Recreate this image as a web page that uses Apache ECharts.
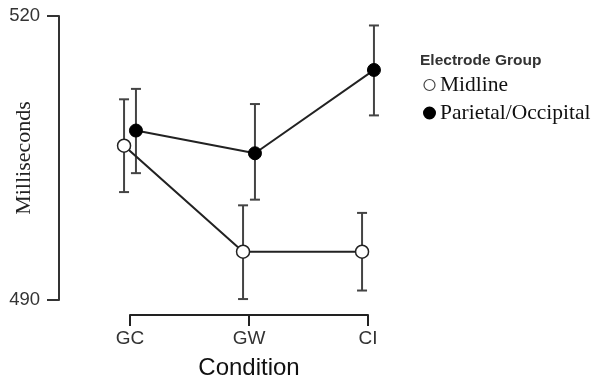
<!DOCTYPE html>
<html>
<head>
    <meta charset="utf-8">
    <title>ECharts</title>
    <script src="https://cdn.jsdelivr.net/npm/echarts@6/dist/echarts.min.js"></script>
</head>
<body style="margin:0">
    <div id="main" style="width: 604px;height:384px;"></div>
    <script type="text/javascript">
    // conditions on the x axis
    var conditions = ['GC', 'GW', 'CI'];

    // Midline
    var midMean = [506.3, 495.1, 495.1];
    var midLow  = [501.4, 490.1, 491.0];
    var midHigh = [511.2, 500.0, 499.2];

    // Parietal/Occipital
    var parMean = [507.9, 505.5, 514.3];
    var parLow  = [503.4, 500.6, 509.5];
    var parHigh = [512.3, 510.7, 519.0];

    var dodge = 0.05;
    var ink = '#222';

    function points(mean, shift) {
        return mean.map(function (v, i) { return [i + shift, v]; });
    }
    function bars(low, high, shift) {
        return low.map(function (v, i) { return [i + shift, v, high[i]]; });
    }

    function errorBar(params, api) {
        var lo = api.coord([api.value(0), api.value(1)]);
        var hi = api.coord([api.value(0), api.value(2)]);
        var w = 5;
        var style = { stroke: '#444', lineWidth: 2 };
        return {
            type: 'group',
            children: [
                { type: 'line', shape: { x1: lo[0], y1: lo[1], x2: hi[0], y2: hi[1] }, style: style },
                { type: 'line', shape: { x1: lo[0] - w, y1: lo[1], x2: lo[0] + w, y2: lo[1] }, style: style },
                { type: 'line', shape: { x1: hi[0] - w, y1: hi[1], x2: hi[0] + w, y2: hi[1] }, style: style }
            ]
        };
    }

    var myChart = echarts.init(document.getElementById('main'));
    myChart.setOption({
        animation: false,
        backgroundColor: '#fff',
        title: {
            text: 'Electrode Group',
            left: 420,
            top: 53,
            padding: 0,
            textStyle: { fontFamily: 'Liberation Sans', fontSize: 15.5, fontWeight: 'bold', color: '#333' }
        },
        legend: {
            orient: 'vertical',
            left: 423,
            top: 74,
            padding: 0,
            itemGap: 6,
            itemWidth: 11,
            itemHeight: 11,
            icon: 'circle',
            textStyle: { fontFamily: 'Liberation Serif', fontSize: 21.5, color: '#111', lineHeight: 21 },
            data: [
                { name: 'Midline', itemStyle: { color: '#fff', borderColor: '#444', borderWidth: 1.2 } },
                { name: 'Parietal/Occipital', itemStyle: { color: '#000' } }
            ]
        },
        grid: { left: 130, right: 236, top: 16, bottom: 84, outerBoundsMode: 'none', containLabel: false },
        xAxis: {
            type: 'value',
            min: 0,
            max: 2,
            interval: 1,
            offset: 15,
            splitLine: { show: false },
            axisLine: { show: true, onZero: false, lineStyle: { color: ink, width: 2 } },
            axisTick: { show: true, length: 11, lineStyle: { color: ink, width: 2 } },
            axisLabel: {
                margin: 14,
                fontFamily: 'Liberation Sans',
                fontSize: 19,
                color: '#333',
                formatter: function (v) { return conditions[v] || ''; }
            },
            name: 'Condition',
            nameLocation: 'middle',
            nameGap: 41,
            nameMoveOverlap: false,
            nameTextStyle: { fontFamily: 'Liberation Sans', fontSize: 24, color: '#111' }
        },
        yAxis: {
            type: 'value',
            min: 490,
            max: 520,
            interval: 30,
            offset: 71,
            splitLine: { show: false },
            axisLine: { show: true, onZero: false, lineStyle: { color: '#333', width: 2 } },
            axisTick: { show: true, length: 12, lineStyle: { color: '#333', width: 2 } },
            axisLabel: { margin: 19, fontFamily: 'Liberation Sans', fontSize: 18.5, color: '#333' },
            name: 'Milliseconds',
            nameLocation: 'middle',
            nameRotate: 90,
            nameGap: 24,
            nameMoveOverlap: false,
            nameTextStyle: { fontFamily: 'Liberation Serif', fontSize: 22, color: '#222' }
        },
        series: [
            {
                type: 'custom', name: 'midErr', z: 1, clip: false,
                renderItem: errorBar, data: bars(midLow, midHigh, -dodge)
            },
            {
                type: 'custom', name: 'parErr', z: 1, clip: false,
                renderItem: errorBar, data: bars(parLow, parHigh, dodge)
            },
            {
                name: 'Midline', type: 'line', z: 3, clip: false,
                symbol: 'circle', symbolSize: 13,
                lineStyle: { color: ink, width: 2 },
                itemStyle: { color: '#fff', borderColor: ink, borderWidth: 1.5 },
                data: points(midMean, -dodge)
            },
            {
                name: 'Parietal/Occipital', type: 'line', z: 3, clip: false,
                symbol: 'circle', symbolSize: 13,
                lineStyle: { color: ink, width: 2 },
                itemStyle: { color: '#000', borderColor: '#000', borderWidth: 1 },
                data: points(parMean, dodge)
            }
        ]
    });
    </script>
</body>
</html>
